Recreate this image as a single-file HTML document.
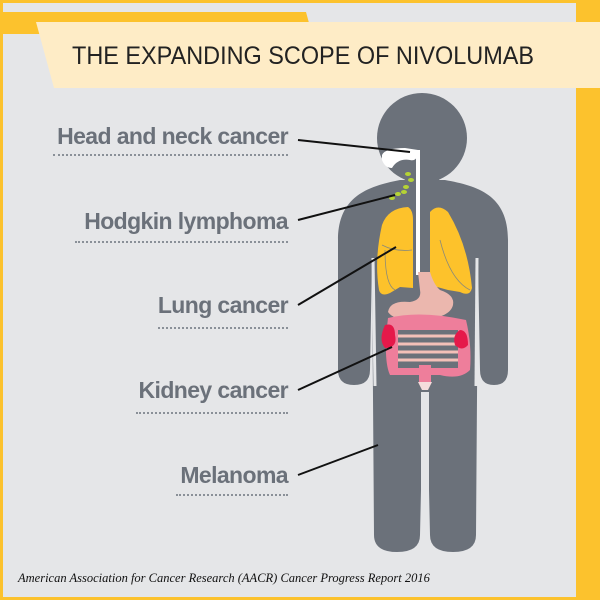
<!DOCTYPE html>
<html><head><style>
body{margin:0;width:600px;height:600px;overflow:hidden;background:#fcc22d;}
.lab{position:absolute;right:312px;font:bold 23px "Liberation Sans",sans-serif;color:#6b717a;letter-spacing:-0.6px;white-space:nowrap;}
.dot{position:absolute;right:312px;border-top:2px dotted #8a9098;height:0;}
</style></head><body>
<svg width="600" height="600" style="position:absolute;left:0;top:0">
<rect x="3" y="3" width="573" height="594" fill="#e5e6e8"/>
<polygon points="0,12 306,12 312,34 0,34" fill="#fcc22d"/>
<polygon points="36,22 600,22 600,88 54,88" fill="#feecc6"/>
<polygon points="576,88 600,88 576,106" fill="#fcc22d"/>
<text x="72" y="64" font-family="Liberation Sans, sans-serif" font-size="25" fill="#222" textLength="462" lengthAdjust="spacingAndGlyphs">THE EXPANDING SCOPE OF NIVOLUMAB</text>
<!-- body -->
<g fill="#6b717a">
<circle cx="422" cy="138" r="45"/>
<rect x="405" y="165" width="34" height="30"/>
<path d="M338,240 C338,195 370,186 400,180 L445,180 C478,186 508,195 508,240 L508,370 Q508,385 494,385 Q480,385 480,370 L478,260 L476,535 Q476,552 453,552 Q430,552 430,535 L427,400 L423,400 L420,535 Q420,552 397,552 Q374,552 374,535 L372,260 L370,370 Q370,385 354,385 Q338,385 338,370 Z"/>
</g>
<line x1="373" y1="258" x2="375" y2="386" stroke="#e5e6e8" stroke-width="3"/>
<line x1="477" y1="258" x2="476" y2="386" stroke="#e5e6e8" stroke-width="3"/>
<rect x="421" y="392" width="8" height="165" fill="#e5e6e8"/>
<!-- lungs -->
<path d="M382,225 Q388,208 408,207 Q413,210 413,220 L413,288 L400,287 L390,293 Q381,297 379,290 Q374,260 382,225 Z" fill="#fdc22b"/>
<path d="M430,212 Q438,203 448,212 Q468,245 472,288 Q470,297 460,292 L448,290 L430,285 Z" fill="#fdc22b"/>
<path d="M382,245 Q395,252 412,250 M385,250 Q385,285 395,290 M440,240 Q450,280 470,290" stroke="#8a8a7a" fill="none" stroke-width="0.8"/>
<!-- airway -->
<path d="M382,155 Q385,148 405,148 L418,150 Q418,162 410,160 Q398,158 392,168 Q385,168 382,160 Z" fill="#fff"/>
<rect x="416" y="150" width="4" height="125" fill="#fff"/>
<!-- stomach -->
<path d="M418,272 L430,272 Q434,285 440,290 Q455,295 453,305 Q450,318 420,320 Q395,322 388,312 Q390,300 410,302 Q422,300 420,290 Z" fill="#ebb7ae"/>
<!-- intestines -->
<path d="M388,318 Q420,310 466,320 Q472,345 470,370 Q460,380 440,375 L390,375 Q383,360 388,318 Z" fill="#ee7e9b"/>
<path d="M398,330 L458,330 L458,368 L398,368 Z" fill="#6b717a"/>
<g stroke="#f3c0b8" stroke-width="3" fill="none">
<line x1="398" y1="336" x2="458" y2="336"/><line x1="398" y1="344" x2="458" y2="344"/>
<line x1="398" y1="352" x2="458" y2="352"/><line x1="398" y1="360" x2="458" y2="360"/>
</g>
<path d="M385,325 Q395,322 395,335 Q398,348 385,348 Q378,340 385,325 Z" fill="#e5194a"/>
<path d="M460,330 Q468,330 468,345 Q462,352 455,345 Q452,335 460,330 Z" fill="#e5194a"/>
<rect x="419" y="365" width="12" height="18" fill="#ee7e9b"/>
<path d="M418,382 L432,382 L428,390 L422,390 Z" fill="#f5dcdc"/>
<g fill="#b5d334">
<ellipse cx="408" cy="174" rx="3" ry="2"/><ellipse cx="411" cy="180" rx="3" ry="2"/><ellipse cx="406" cy="187" rx="3" ry="2"/>
<ellipse cx="398" cy="194" rx="3" ry="2"/><ellipse cx="392" cy="198" rx="3" ry="2"/><ellipse cx="404" cy="192" rx="3" ry="2"/>
</g>
<g stroke="#111" stroke-width="2">
<line x1="298" y1="140" x2="410" y2="152"/>
<line x1="298" y1="220" x2="395" y2="195"/>
<line x1="298" y1="305" x2="396" y2="247"/>
<line x1="298" y1="390" x2="392" y2="347"/>
<line x1="298" y1="475" x2="378" y2="445"/>
</g>
<text x="18" y="582" font-family="Liberation Serif, serif" font-style="italic" font-size="12.5" fill="#111">American Association for Cancer Research (AACR) Cancer Progress Report 2016</text>
</svg>
<div class="lab" style="top:123px">Head and neck cancer</div><div class="dot" style="top:154px;width:235px"></div>
<div class="lab" style="top:208px">Hodgkin lymphoma</div><div class="dot" style="top:241px;width:213px"></div>
<div class="lab" style="top:292px">Lung cancer</div><div class="dot" style="top:327px;width:130px"></div>
<div class="lab" style="top:377px">Kidney cancer</div><div class="dot" style="top:412px;width:152px"></div>
<div class="lab" style="top:462px">Melanoma</div><div class="dot" style="top:494px;width:112px"></div>
</body></html>
